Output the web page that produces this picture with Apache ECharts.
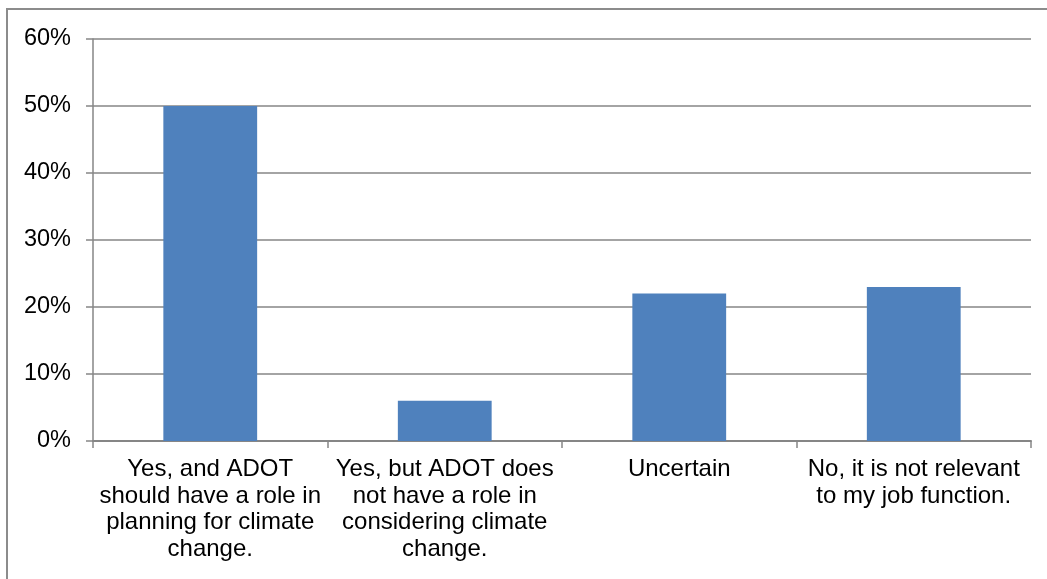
<!DOCTYPE html>
<html>
<head>
<meta charset="utf-8">
<script src="https://cdn.jsdelivr.net/npm/echarts@6/dist/echarts.min.js"></script>
<style>
  html, body { margin: 0; padding: 0; background: #fff; }
  #chart { width: 1047px; height: 579px; }
</style>
</head>
<body>
<div id="chart"></div>
<script>
// Survey responses: share of respondents per answer
const categories = [
  'Yes, and ADOT\nshould have a role in\nplanning for climate\nchange.',
  'Yes, but ADOT does\nnot have a role in\nconsidering climate\nchange.',
  'Uncertain',
  'No, it is not relevant\nto my job function.'
];
const shares = [50, 6, 22, 23];
const yTicks = { min: 0, max: 60, step: 10 };

const axisGray = '#868686';
const chart = echarts.init(document.getElementById('chart'));
chart.setOption({
  animation: false,
  backgroundColor: '#fff',
  graphic: [{
    type: 'rect',
    shape: { x: 7, y: 9, width: 1100, height: 700 },
    style: { fill: 'none', stroke: '#8c8c8c', lineWidth: 2 },
    silent: true
  }],
  grid: { left: 93, top: 39, right: 16, bottom: 138 },
  xAxis: {
    type: 'category',
    data: categories,
    axisLine: { lineStyle: { color: axisGray, width: 2 } },
    axisTick: { show: true, alignWithLabel: false, length: 7, lineStyle: { color: axisGray, width: 1.5 } },
    axisLabel: {
      color: '#000',
      fontFamily: 'Liberation Sans, Arial, sans-serif',
      fontSize: 24,
      lineHeight: 26.7,
      margin: 15,
      interval: 0,
      align: 'center'
    }
  },
  yAxis: {
    type: 'value',
    min: yTicks.min,
    max: yTicks.max,
    interval: yTicks.step,
    axisLine: { show: true, lineStyle: { color: axisGray, width: 1.5 } },
    axisTick: { show: true, length: 7, lineStyle: { color: axisGray, width: 1.5 } },
    splitLine: { lineStyle: { color: axisGray, width: 1.5 } },
    axisLabel: {
      color: '#000',
      fontFamily: 'Liberation Sans, Arial, sans-serif',
      fontSize: 23.5,
      margin: 22,
      formatter: '{value}%'
    }
  },
  series: [{
    type: 'bar',
    data: shares,
    barWidth: '40%',
    itemStyle: { color: '#4F81BD' }
  }]
});
</script>
</body>
</html>
